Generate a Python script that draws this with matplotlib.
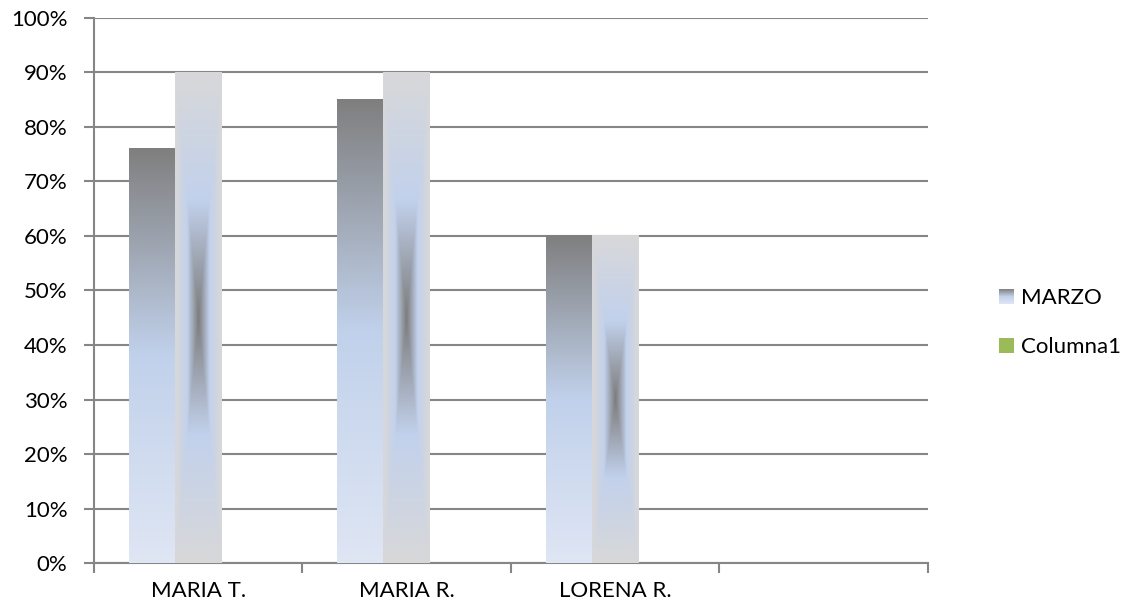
import numpy as np
import matplotlib
matplotlib.use("Agg")
import matplotlib.pyplot as plt
from matplotlib.patches import Patch
from matplotlib.legend_handler import HandlerBase
from matplotlib.image import BboxImage
from matplotlib.transforms import Bbox, TransformedBbox
from matplotlib.colors import LinearSegmentedColormap

plt.rcParams['font.family'] = ['Lato', 'DejaVu Sans']

# data
categories = ["MARIA T.", "MARIA R.", "LORENA R.", ""]
marzo = [0.76, 0.85, 0.60, np.nan]
serie2 = [0.90, 0.90, 0.60, np.nan]
columna1 = [np.nan, np.nan, np.nan, np.nan]
yticks = np.arange(0, 1.01, 0.1)

# gradients
lin_cmap = LinearSegmentedColormap.from_list(
    "lin", [(0.0, "#dfe6f4"), (0.5, "#c1d1eb"), (1.0, "#7f7f7f")])
path_cmap = LinearSegmentedColormap.from_list(
    "path", [(0.0, "#7c7c7c"), (0.48, "#c2d1ec"), (1.0, "#d8d8d9")])

lin_grad = lin_cmap(np.linspace(0, 1, 256))[:, None, :3]   # row 0 = bottom
ny, nx = 400, 60
yy, xx = np.mgrid[-1:1:ny * 1j, -1:1:nx * 1j]
path_grad = path_cmap(np.maximum(np.abs(xx), np.abs(yy)))[..., :3]

fig = plt.figure(figsize=(11.31, 6.09), dpi=100)
ax = fig.add_axes([0.083, 0.0755, 0.7375, 0.895])

x = np.arange(len(categories))
w = 1 / 4.5
b1 = ax.bar(x - w, marzo, w, color="none", linewidth=0, zorder=3)
b2 = ax.bar(x, serie2, w, color="none", linewidth=0, zorder=3)
b3 = ax.bar(x + w, columna1, w, color="#9bbb59", linewidth=0, zorder=3)

for r in b1:
    if np.isfinite(r.get_height()):
        ax.imshow(lin_grad, extent=(r.get_x(), r.get_x() + r.get_width(), 0, r.get_height()),
                  origin="lower", aspect="auto", interpolation="bilinear", zorder=3)
for r in b2:
    if np.isfinite(r.get_height()):
        ax.imshow(path_grad, extent=(r.get_x(), r.get_x() + r.get_width(), 0, r.get_height()),
                  origin="lower", aspect="auto", interpolation="bilinear", zorder=3)

ax.set_xlim(-0.5, len(categories) - 0.5)
ax.set_ylim(0, 1)
ax.set_yticks(yticks)
ax.set_yticklabels([f"{int(round(v * 100))}%" for v in yticks], fontsize=16)
ax.set_xticks(x)
ax.set_xticklabels(categories, fontsize=16)
ax.set_xticks(np.arange(-0.5, len(categories), 1), minor=True)
ax.tick_params(axis="x", which="major", length=0, pad=13)
ax.tick_params(axis="x", which="minor", length=7, width=1.5, color="#868686")
ax.tick_params(axis="y", length=7, width=1.5, color="#868686", pad=12)
ax.yaxis.grid(True, color="#868686", linewidth=1.5, zorder=0)
ax.set_axisbelow(True)
for s in ["top", "right"]:
    ax.spines[s].set_visible(False)
for s in ["left", "bottom"]:
    ax.spines[s].set_color("#868686")
    ax.spines[s].set_linewidth(1.5)


class GradHandler(HandlerBase):
    def create_artists(self, legend, orig_handle, xdescent, ydescent,
                       width, height, fontsize, trans):
        bb = Bbox.from_bounds(-xdescent, -ydescent, width, height)
        img = BboxImage(TransformedBbox(bb, trans), interpolation="bilinear", origin="lower")
        img.set_data(lin_grad)
        return [img]


h1 = Patch(facecolor="#a0a0a0")
h3 = Patch(facecolor="#9bbb59")
fig.legend([h1, h3], ["MARZO", "Columna1"], loc="center left",
           bbox_to_anchor=(0.866, 0.47), frameon=False, fontsize=16,
           handlelength=0.65, handleheight=0.65, handletextpad=0.3,
           labelspacing=1.3, handler_map={h1: GradHandler()})

fig.savefig("out.png", dpi=100)
